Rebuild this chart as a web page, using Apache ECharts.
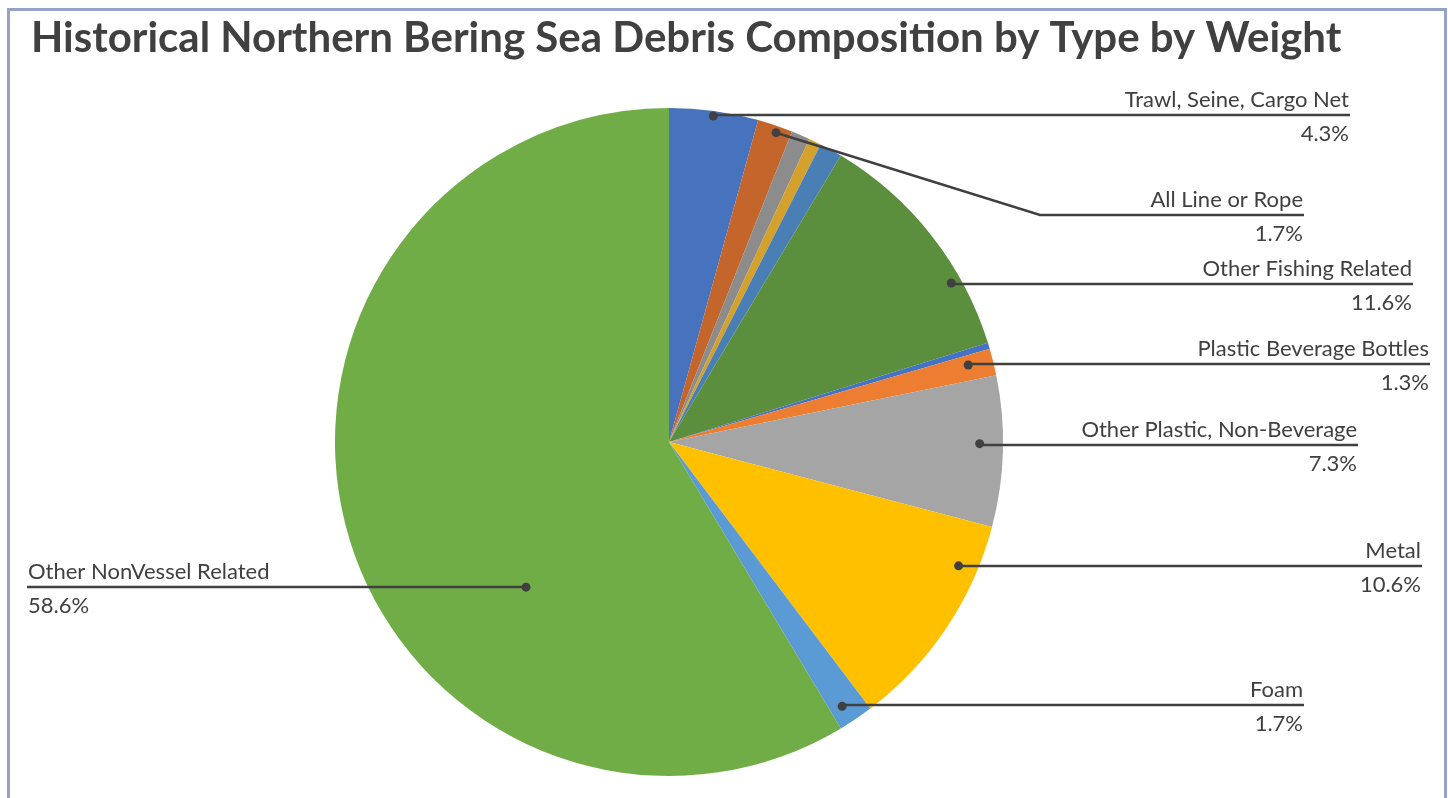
<!DOCTYPE html>
<html><head><meta charset="utf-8">
<script src="https://cdn.jsdelivr.net/npm/echarts@6/dist/echarts.min.js"></script>
<style>
html,body{margin:0;padding:0;background:#fff;overflow:hidden;}
#frame{position:absolute;left:7px;top:8px;width:1440px;height:830px;border:3px solid #97A3C6;box-sizing:border-box;}
#chart{position:absolute;left:0;top:0;width:1448px;height:798px;}
</style></head>
<body><div id="frame"></div><div id="chart"></div>
<script>
const titleText = 'Historical Northern Bering Sea Debris Composition by Type by Weight';
const categories = ['Trawl, Seine, Cargo Net','All Line or Rope','Unlabeled A','Unlabeled B','Unlabeled C','Other Fishing Related','Unlabeled D','Plastic Beverage Bottles','Other Plastic, Non-Beverage','Metal','Foam','Other NonVessel Related'];
const values = [4.3, 1.7, 0.9, 0.6, 1.1, 11.6, 0.3, 1.3, 7.3, 10.6, 1.7, 58.6];
const showLabel = [true, true, false, false, false, true, false, true, true, true, true, true];
const sliceColors = ['#4672BE','#C4662B','#8C8C8C','#D4A12C','#4A7FB5','#5B8F3E','#4472C4','#ED7D31','#A5A5A5','#FFC000','#5B9BD5','#70AD47'];

// label placement (layout only): anchor x, leader-line y, optional bend x, dot position inside slice
const labelSpec = [
  {side:'right', x:1350, y:115, dotT:0.5,  dotR:0.985},
  {side:'right', x:1304, y:215, bendX:1040, dotT:0.59, dotR:0.98},
  null, null, null,
  {side:'right', x:1413, y:284, dotT:0.71, dotR:0.97},
  null,
  {side:'right', x:1430, y:364, dotT:0.38, dotR:0.925},
  {side:'right', x:1358, y:445, dotT:0.45, dotR:0.93},
  {side:'right', x:1422, y:566, dotT:0.22, dotR:0.943},
  {side:'right', x:1304, y:705, dotT:0.63, dotR:0.946},
  {side:'left',  x:27,   y:587, dotT:0.358, dotR:0.61}
];

const FONT = 'Lato';
const TXT = '#404040';

const chart = echarts.init(document.getElementById('chart'), null, {renderer:'canvas'});
const option = {
  animation: false,
  title: {
    text: titleText, left: 26, top: 12,
    textStyle: {fontFamily: FONT, fontWeight: 'bold', fontSize: 42, color: TXT}
  },
  series: [{
    type: 'pie',
    center: [669, 442],
    radius: 334,
    startAngle: 90,
    clockwise: true,
    avoidLabelOverlap: false,
    itemStyle: {borderWidth: 0},
    emphasis: {disabled: true},
    labelLine: {show: false},
    label: {
      show: true,
      position: 'outer',
      formatter: p => showLabel[p.dataIndex] ? '{n|' + p.name + '}\n{p|' + p.value.toFixed(1) + '%}' : '',
      rich: {
        n: {fontFamily: FONT, fontSize: 22, color: TXT, lineHeight: 34},
        p: {fontFamily: FONT, fontSize: 22, color: TXT, lineHeight: 34}
      }
    },
    labelLayout: function (params) {
      const s = labelSpec[params.dataIndex];
      if (!s) return {};
      return {x: s.side === 'left' ? s.x + 1 : s.x - 1, y: s.y + 2, align: s.side === 'left' ? 'left' : 'right', verticalAlign: 'middle'};
    },
    data: categories.map((c, i) => ({
      name: c, value: values[i],
      itemStyle: {color: sliceColors[i]},
      label: {show: showLabel[i]}
    }))
  }]
};
chart.setOption(option);

// leader lines and dots from the library's computed slice layout
const data = chart.getModel().getSeriesByIndex(0).getData();
const graphics = [];
labelSpec.forEach((s, i) => {
  if (!s) return;
  const L = data.getItemLayout(i);
  const a = L.startAngle + s.dotT * (L.endAngle - L.startAngle);
  const r = s.dotR * L.r;
  const dx = L.cx + r * Math.cos(a), dy = L.cy + r * Math.sin(a);
  let pts;
  if (s.side === 'left') pts = [[dx, dy], [dx, s.y], [s.x, s.y]];
  else pts = [[dx, dy], [s.bendX != null ? s.bendX : dx, s.y], [s.x, s.y]];
  graphics.push({type:'polyline', z: 100, shape:{points: pts}, style:{stroke: TXT, lineWidth: 2.5, fill: null}, silent: true});
  graphics.push({type:'circle', z: 101, shape:{cx: dx, cy: dy, r: 4.5}, style:{fill: TXT}, silent: true});
});
chart.setOption({graphic: graphics});
</script>
</body></html>
